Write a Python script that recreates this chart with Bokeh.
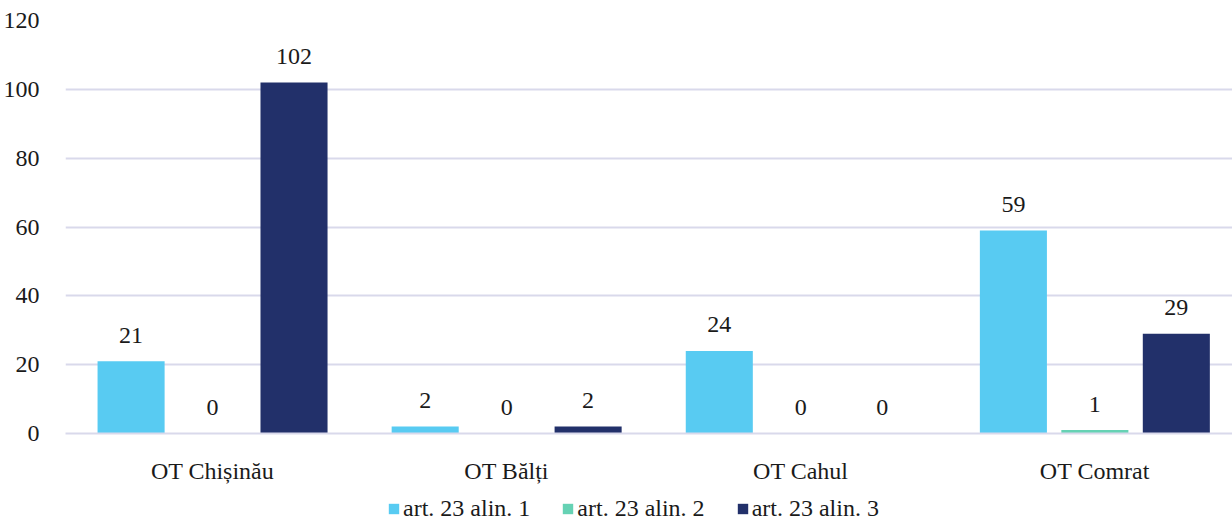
from bokeh.plotting import figure
from bokeh.models import ColumnDataSource, Legend, LegendItem, LabelSet, FixedTicker
from bokeh.layouts import column
from bokeh.embed import file_html
from bokeh.resources import INLINE

categories = ["OT Chișinău", "OT Bălți", "OT Cahul", "OT Comrat"]
series_names = ["art. 23 alin. 1", "art. 23 alin. 2", "art. 23 alin. 3"]
alin1 = [21, 2, 24, 59]
alin2 = [0, 0, 0, 1]
alin3 = [102, 2, 0, 29]
y_ticks = [0, 20, 40, 60, 80, 100, 120]
colors = ["#58CBF2", "#66D2B4", "#22306A"]

FONT = "Liberation Serif"
GRID = "#D9D9EB"
FS = "24px"
TXT = "#1a1a1a"

pos = [i + 0.5 for i in range(len(categories))]
offs = [-0.277, 0.0, 0.277]
values = [alin1, alin2, alin3]

p = figure(x_range=(0, 3.968), y_range=(0, 120), width=1232, height=490,
           output_backend="svg", toolbar_location=None,
           min_border_left=65, min_border_right=0, min_border_top=20, min_border_bottom=57)
p.outline_line_color = None

renderers = []
for off, vals, col in zip(offs, values, colors):
    src = ColumnDataSource(dict(x=[x + off for x in pos], top=vals, lab=[str(v) for v in vals]))
    r = p.vbar(x="x", top="top", width=0.228, source=src, fill_color=col, line_color=None)
    renderers.append(r)
    p.add_layout(LabelSet(x="x", y="top", text="lab", source=src,
                          text_align="center", text_baseline="middle", y_offset=26,
                          text_font=FONT, text_font_size=FS, text_color=TXT))

p.ygrid.grid_line_color = GRID
p.ygrid.grid_line_width = 2
p.xgrid.grid_line_color = None

p.yaxis.axis_line_color = None
p.yaxis.major_tick_line_color = None
p.yaxis.minor_tick_line_color = None
p.yaxis.major_label_standoff = 20
p.yaxis.major_label_text_font = FONT
p.yaxis.major_label_text_font_size = FS
p.yaxis.major_label_text_color = TXT
p.yaxis.ticker = FixedTicker(ticks=y_ticks)

p.xaxis.ticker = FixedTicker(ticks=pos)
p.xaxis.major_label_overrides = {x: c for x, c in zip(pos, categories)}
p.xaxis.axis_line_color = GRID
p.xaxis.axis_line_width = 2
p.xaxis.major_tick_line_color = None
p.xaxis.minor_tick_line_color = None
p.xaxis.major_label_standoff = 18
p.xaxis.major_label_text_font = FONT
p.xaxis.major_label_text_font_size = FS
p.xaxis.major_label_text_color = TXT

# legend strip (proxy glyphs placed outside the visible range)
q = figure(x_range=(0, 1), y_range=(0, 1), width=1232, height=32,
           output_backend="svg", toolbar_location=None,
           x_axis_location=None, y_axis_location=None,
           min_border_left=0, min_border_right=0, min_border_top=0, min_border_bottom=0)
q.outline_line_color = None
q.grid.visible = False
proxies = []
for col in colors:
    proxies.append(q.vbar(x=[-10], top=[-10], bottom=[-11], width=0.1,
                          fill_color=col, line_color=None))
items = [LegendItem(label=n, renderers=[r]) for n, r in zip(series_names, proxies)]
legend = Legend(items=items, orientation="horizontal", location=(322, 0),
                label_text_font=FONT, label_text_font_size=FS, label_text_color=TXT,
                glyph_width=13, glyph_height=13, spacing=31, label_standoff=3,
                padding=0, margin=0, border_line_color=None, background_fill_alpha=0)
q.add_layout(legend, "center")

layout = column(p, q, spacing=0)
open("out.html", "w").write(file_html(layout, INLINE))
